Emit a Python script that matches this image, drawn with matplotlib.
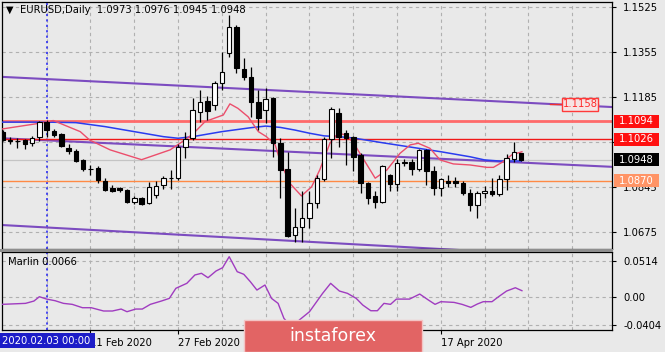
import numpy as np
import matplotlib.pyplot as plt
from matplotlib.patches import Rectangle

plt.rcParams['font.family'] = ['DejaVu Sans']

# daily bars, index 0 = 2020.02.03
bar_idx = np.arange(-6, 66)
opens = np.array([1.1055, 1.1025, 1.1020, 1.1025, 1.1012, 1.1033,
                  1.1090, 1.1059, 1.1045, 1.0995, 1.0982, 1.0946, 1.0912, 1.0917, 1.0870, 1.0843,
                  1.0843, 1.0834, 1.0788, 1.0803, 1.0785, 1.0816, 1.0852, 1.0880, 1.0879, 1.0998,
                  1.1031, 1.1130, 1.1170, 1.1156, 1.1238, 1.1351, 1.1452, 1.1292, 1.1263, 1.1168,
                  1.1137, 1.1182, 1.1012, 1.0914, 1.0664, 1.0696, 1.0728, 1.0786, 1.0876, 1.1027,
                  1.1126, 1.1050, 1.1036, 1.0967, 1.0861, 1.0812, 1.0789, 1.0891, 1.0856, 1.0935,
                  1.0940, 1.0912, 1.0986, 1.0908, 1.0843, 1.0868, 1.0868, 1.0862, 1.0824, 1.0778,
                  1.0824, 1.0832, 1.0819, 1.0876, 1.0950, 1.0973])
highs = np.array([1.1063, 1.1036, 1.1031, 1.1028, 1.1038, 1.1096,
                  1.1099, 1.1064, 1.1048, 1.1010, 1.0988, 1.0953, 1.0929, 1.0925, 1.0878, 1.0853,
                  1.0847, 1.0840, 1.0810, 1.0808, 1.0866, 1.0868, 1.0889, 1.0910, 1.1009, 1.1053,
                  1.1184, 1.1212, 1.1190, 1.1246, 1.1356, 1.1496, 1.1458, 1.1333, 1.1300, 1.1212,
                  1.1220, 1.1185, 1.1031, 1.0979, 1.0765, 1.0830, 1.0830, 1.0890, 1.1034, 1.1147,
                  1.1143, 1.1060, 1.1040, 1.0974, 1.0865, 1.0830, 1.0929, 1.0896, 1.0952, 1.0950,
                  1.0950, 1.0990, 1.0990, 1.0925, 1.0880, 1.0890, 1.0885, 1.0870, 1.0840, 1.0830,
                  1.0848, 1.0879, 1.0890, 1.0972, 1.1017, 1.0976])
lows = np.array([1.1020, 1.1010, 1.0993, 1.0990, 1.1000, 1.1019,
                 1.1036, 1.1036, 1.0996, 1.0972, 1.0941, 1.0908, 1.0891, 1.0861, 1.0832, 1.0826,
                 1.0826, 1.0785, 1.0780, 1.0778, 1.0780, 1.0803, 1.0840, 1.0840, 1.0872, 1.0957,
                 1.1023, 1.1093, 1.1099, 1.1137, 1.1212, 1.1338, 1.1277, 1.1250, 1.1111, 1.1061,
                 1.1088, 1.0959, 1.0804, 1.0655, 1.0639, 1.0639, 1.0690, 1.0766, 1.0870, 1.0955,
                 1.0998, 1.0929, 1.0906, 1.0823, 1.0780, 1.0768, 1.0784, 1.0832, 1.0830, 1.0925,
                 1.0890, 1.0905, 1.0855, 1.0815, 1.0812, 1.0845, 1.0845, 1.0815, 1.0755, 1.0727,
                 1.0806, 1.0812, 1.0812, 1.0834, 1.0942, 1.0945])
closes = np.array([1.1025, 1.1020, 1.1019, 1.1010, 1.1030, 1.1092,
                   1.1060, 1.1042, 1.0999, 1.0980, 1.0943, 1.0912, 1.0914, 1.0872, 1.0836, 1.0829,
                   1.0835, 1.0789, 1.0804, 1.0783, 1.0847, 1.0849, 1.0881, 1.0881, 1.0998, 1.1028,
                   1.1137, 1.1168, 1.1132, 1.1239, 1.1282, 1.1452, 1.1296, 1.1263, 1.1168, 1.1105,
                   1.1178, 1.1012, 1.0910, 1.0660, 1.0696, 1.0728, 1.0786, 1.0880, 1.1027, 1.1139,
                   1.1036, 1.1031, 1.0960, 1.0860, 1.0805, 1.0789, 1.0925, 1.0856, 1.0935, 1.0940,
                   1.0912, 1.0986, 1.0908, 1.0843, 1.0876, 1.0861, 1.0861, 1.0824, 1.0778, 1.0824,
                   1.0832, 1.0819, 1.0876, 1.0955, 1.0979, 1.0948])

# moving averages (bar index, price)
ma_slow_x = [-6.12, 0, 4, 8, 12, 16, 18, 20, 24, 28, 30, 32, 34, 36, 38, 40, 42, 46, 50, 54, 58, 60, 62, 65]
ma_slow = [1.1091, 1.1091, 1.1089, 1.1074, 1.1055, 1.1036, 1.1030, 1.1036, 1.1055, 1.1070, 1.1076, 1.1071,
           1.1061, 1.1049, 1.1039, 1.1036, 1.1031, 1.1013, 1.0996, 1.0979, 1.0960, 1.0948, 1.0944, 1.0944]
ma_fast_x = [-6.12, -0.9, 0.9, 4.6, 5.9, 8.7, 13.0, 16.9, 18.9, 20.1, 21.7, 24.2, 25.1, 26.2, 27.6, 29.0,
             30.1, 31.3, 32.0, 33.3, 34.9, 36.3, 37.4, 38.8, 39.9, 41.1, 42.2, 43.6, 45.0, 46.6, 48.4,
             49.8, 50.9, 52.5, 53.9, 55.7, 58.0, 60.3, 61.2, 62.5, 63.7, 65.1]
ma_fast = [1.1065, 1.1087, 1.1097, 1.1055, 1.1023, 1.0986, 1.0949, 1.0986, 1.1023, 1.1048, 1.1093, 1.1118,
           1.1160, 1.1143, 1.1111, 1.1055, 1.1036, 1.1005, 1.0942, 1.0860, 1.0812, 1.0847, 1.0910, 1.1011,
           1.1049, 1.1042, 1.1005, 1.0942, 1.0879, 1.0910, 1.0973, 1.1005, 1.1011, 1.0992, 1.0948, 1.0933,
           1.0929, 1.0920, 1.0920, 1.0941, 1.0967, 1.0979]

# channel lines (start / end)
chan_x = [-6.12, 77.44]
chan_upper = [1.1262, 1.1148]
chan_mid = [1.1030, 1.0922]
chan_low = [1.0702, 1.0576]

levels = [1.1094, 1.1026, 1.0870]
level_colors = ['#ff6a6a', '#f01818', '#ff8a45']
box_colors = ['#ff1010', '#ff1010', '#ff9466']
bid = 1.0948

price_ticks = [1.1525, 1.1355, 1.1185, 1.1015, 1.0845, 1.0675]
price_labels = ['1.1525', '1.1355', '1.1185', '', '1.0845', '1.0675']

marlin_x = [-6.1, -2.9, -1.75, -1.0, 0.0, 1.15, 2.3, 3.5, 4.9, 6.1, 7.8, 9.0, 10.2, 11.0, 12.2, 13.1,
            14.2, 15.7, 16.8, 17.7, 19.2, 20.3, 21.2, 22.1, 23.2, 24.1, 25.0, 26.1, 27.0, 27.9, 28.8,
            29.9, 30.8, 31.7, 32.5, 33.1, 33.6, 34.0, 34.6, 36.0, 37.8, 38.9, 40.1, 41.2, 42.4, 43.3,
            44.4, 45.3, 46.2, 47.1, 47.9, 49.7, 51.1, 52.3, 53.2, 54.0, 55.8, 56.9, 58.1, 59.0, 59.8,
            61.0, 61.9, 63.0, 64.2, 65.1]
marlin_v = [-0.0109, -0.0095, -0.0062, 0.0, -0.0034, -0.0057, -0.0095, -0.0109, -0.0157, -0.0157,
            -0.0204, -0.0204, -0.0176, -0.0214, -0.0176, -0.0176, -0.0109, -0.0062, -0.0024, 0.0120,
            0.0191, 0.0310, 0.0334, 0.0271, 0.0367, 0.0414, 0.0571, 0.0357, 0.0320, 0.0214, 0.0095,
            0.0167, -0.0024, -0.0095, -0.0309, -0.0380, -0.0440, -0.0450, -0.0333, -0.0214, 0.0048,
            0.0191, 0.0081, 0.0048, -0.0024, -0.0119, -0.0200, -0.0200, -0.0095, -0.0109, -0.0034,
            -0.0034, 0.0038, -0.0048, -0.0109, -0.0071, -0.0081, -0.0109, -0.0152, -0.0104, -0.0071,
            -0.0071, 0.0, 0.0081, 0.0128, 0.0086]

# labels at bars 30 and 42 sit under the watermark in the original
date_ticks = [6, 18, 30, 42, 54]
date_labels = ['11 Feb 2020', '27 Feb 2020', '', '', '17 Apr 2020']

bg = '#e9e9e9'
fs = 7.2
W, H = 665, 352

fig = plt.figure(figsize=(6.65, 3.52), dpi=100, facecolor=bg)
ax = fig.add_axes([2 / W, 1 - 249 / H, 610 / W, 247 / H], facecolor=bg)
ax2 = fig.add_axes([2 / W, 1 - 330 / H, 610 / W, 78 / H], facecolor=bg, sharex=ax)

ax.set_xlim(-6.12, 77.44)
ax.set_ylim(1.06114, 1.15450)
ax2.set_ylim(-0.0475, 0.0638)

for a in (ax, ax2):
    for s in a.spines.values():
        s.set_color('black')
        s.set_linewidth(0.9)
    a.yaxis.tick_right()
    a.tick_params(axis='y', length=3, width=0.8, pad=5, labelsize=fs, colors='black')
    for gx in range(0, 78, 6):
        a.axvline(gx, color='#b0b0b0', lw=0.8, ls=(0, (3, 3)), zorder=0)
    a.axvline(0, color='#3a3af0', lw=1.3, ls=(0, (1.2, 1.8)), zorder=1)

ax.tick_params(axis='x', bottom=False, labelbottom=False)
ax.set_yticks(price_ticks)
ax.set_yticklabels(price_labels)
for p in price_ticks:
    ax.axhline(p, color='#b0b0b0', lw=0.8, ls=(0, (3, 3)), zorder=0)

# channel lines
ax.plot(chan_x, chan_upper, color='#7c4cc0', lw=1.5, zorder=2)
ax.plot(chan_x, chan_mid, color='#7c4cc0', lw=1.5, zorder=2)
ax.plot(chan_x, chan_low, color='#7c4cc0', lw=1.5, zorder=2)

# horizontal levels
ax.axhline(bid, color='#c4c4c4', lw=0.9, zorder=1)
ax.axhline(levels[0], color=level_colors[0], lw=2.0, zorder=2)
ax.axhline(levels[1], color=level_colors[1], lw=1.0, zorder=2)
ax.axhline(levels[2], color=level_colors[2], lw=1.0, zorder=2)

# moving averages
ax.plot(ma_slow_x, ma_slow, color='#2a3cf0', lw=1.1, zorder=3)
ax.plot(ma_fast_x, ma_fast, color='#ec4e6c', lw=1.0, zorder=3)

# candles
up = closes >= opens
body_lo = np.minimum(opens, closes)
body_h = np.maximum(np.abs(closes - opens), 0.00012)
ax.vlines(bar_idx, lows, highs, color='black', lw=0.9, zorder=4)
ax.bar(bar_idx[up], body_h[up], bottom=body_lo[up], width=0.62, color='white',
       edgecolor='black', lw=0.8, zorder=5)
ax.bar(bar_idx[~up], body_h[~up], bottom=body_lo[~up], width=0.62, color='black',
       edgecolor='black', lw=0.8, zorder=5)

# trend label 1.1158
ax.plot([68.9, 75.5], [1.1158, 1.1158], color='#f03030', lw=1.0, zorder=6)
ax.add_patch(Rectangle((70.6, 1.1158 - 0.0026), 4.9, 0.0052, facecolor='#f6e4e4',
                       edgecolor='#ff3a3a', lw=1.0, zorder=7))
ax.text(73.05, 1.1158, '1.1158', color='#ff2a2a', fontsize=fs, ha='center', va='center', zorder=8)

# price boxes on the right axis
tr = ax.get_yaxis_transform()
for val, col in zip(levels + [bid], box_colors + ['black']):
    ax.add_patch(Rectangle((1.0033, val - 0.00245), 0.0738, 0.0049, transform=tr,
                           facecolor=col, edgecolor='none', clip_on=False, zorder=10))
    ax.text(1.0402, val, '%.4f' % val, transform=tr, color='white', fontsize=fs,
            ha='center', va='center', zorder=11, clip_on=False)

# title
fig.text(6 / W, 1 - 10 / H, '\u25bc', fontsize=7, va='center', ha='left')
fig.text(20 / W, 1 - 10 / H, 'EURUSD,Daily  1.0973 1.0976 1.0945 1.0948', fontsize=fs,
         va='center', ha='left')

# Marlin panel
ax2.plot(marlin_x, marlin_v, color='#a03cc0', lw=1.0, zorder=3)
ax2.set_yticks([0.0514, 0.0, -0.0404])
ax2.set_yticklabels(['0.0514', '0.00', '-0.0404'])
for v in [0.0514, 0.0, -0.0404]:
    ax2.axhline(v, color='#b0b0b0', lw=0.8, ls=(0, (3, 3)), zorder=0)
ax2.text(6 / 610, 1 - 10 / 78, 'Marlin 0.0066', transform=ax2.transAxes, fontsize=fs,
         va='center', ha='left')
ax2.set_xticks(date_ticks)
ax2.set_xticklabels(date_labels, ha='left')
ax2.tick_params(axis='x', length=3, width=0.8, pad=3, labelsize=fs, colors='black')

# separator between panels
fig.patches.append(Rectangle((0, 1 - 252 / H), 613 / W, 3 / H, transform=fig.transFigure,
                             facecolor='#8e8e8e', edgecolor='none', zorder=1))

# cursor date label
fig.patches.append(Rectangle((0, 1 - 348 / H), 95 / W, 15 / H, transform=fig.transFigure,
                             facecolor='#1c1cc8', edgecolor='none', zorder=2))
fig.text(2 / W, 1 - 340.5 / H, '2020.02.03 00:00', color='white', fontsize=fs,
         va='center', ha='left', zorder=3)

# watermark
fig.patches.append(Rectangle((244 / W, 0), 178 / W, 32 / H, transform=fig.transFigure,
                             facecolor='#e26464', edgecolor='#f3c4c4', lw=1.0, zorder=4))
fig.text(333 / W, 16 / H, 'instaforex', color='white', fontsize=12.5,
         va='center', ha='center', zorder=5)

fig.savefig('out.png', dpi=100, facecolor=bg)
